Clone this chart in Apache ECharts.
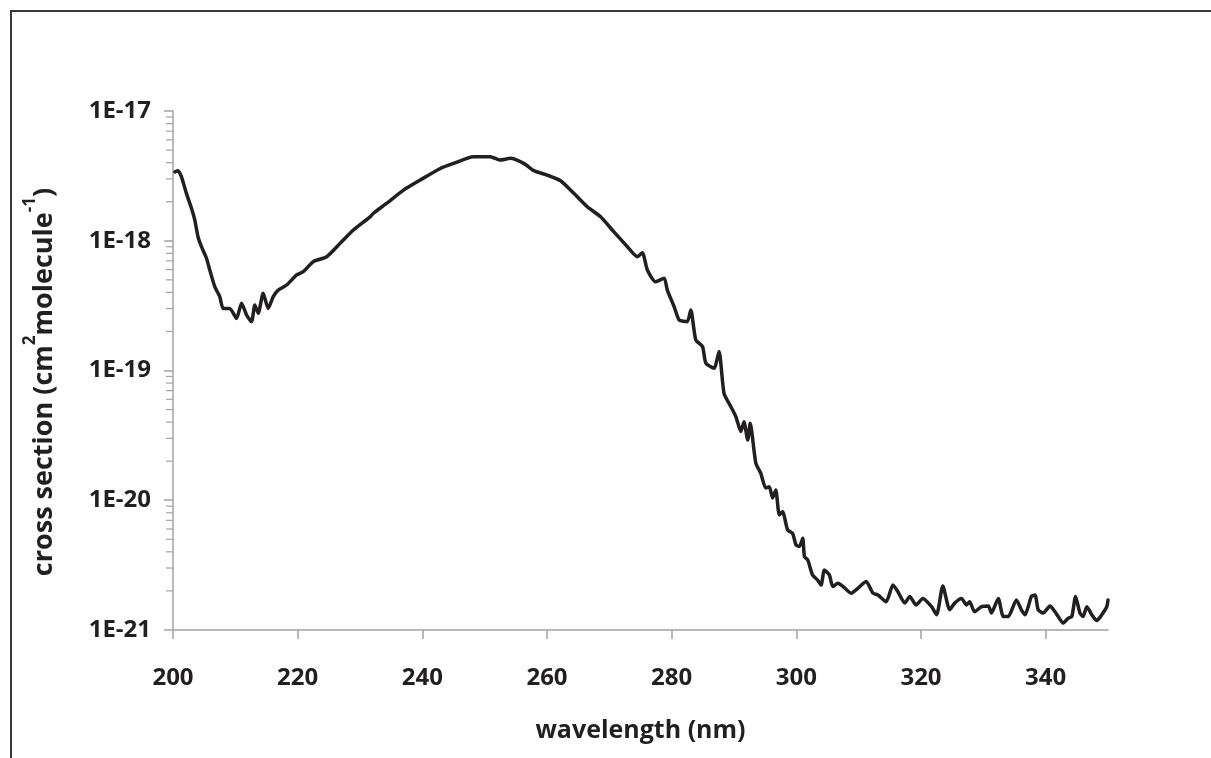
<!DOCTYPE html>
<html>
<head>
<meta charset="utf-8">
<script src="https://cdn.jsdelivr.net/npm/echarts@6/dist/echarts.min.js"></script>
<style>
html,body{margin:0;padding:0;background:#fff;}
#chart{width:1211px;height:758px;}
</style>
</head>
<body>
<div id="chart"></div>
<script>
const wavelength = [200.3,200.8,201.35,202.15,202.96,203.49,204.02,204.57,205.37,205.9,
206.7,207.5,208.04,209.1,210.19,211.0,211.8,212.6,213.13,213.67,
214.47,215.27,216.08,216.88,218.23,219.84,220.9,222.5,224.66,226.8,
228.94,231.62,232.15,234.3,236.98,239.66,242.88,245.0,248.2,250.9,
252.5,254.1,256.27,257.88,260.03,262.17,264.31,266.46,268.6,270.74,
272.9,274.5,275.3,276.1,277.4,278.8,279.3,280.4,281.2,282.5,
283.07,283.87,284.95,285.48,286.8,287.6,288.4,289.5,290.3,291.1,
291.6,292.2,292.6,293.5,294.3,295.1,295.66,296.2,296.7,297.27,
297.8,298.6,299.4,299.95,300.5,301.03,301.3,301.83,302.6,303.4,
303.97,304.5,305.3,305.85,306.66,307.5,308.8,309.9,311.2,312.3,
313.1,314.4,315.5,316.3,317.4,318.2,319.2,320.3,321.7,322.5,
323.5,324.6,325.4,326.5,327.3,327.8,328.6,329.7,330.8,331.3,
332.4,333.2,334.0,335.3,336.1,336.7,337.2,337.7,338.3,338.8,
339.6,340.7,341.5,342.0,342.8,343.6,344.2,344.8,345.5,346.0,
346.6,347.4,348.2,349.0,349.8,350.0];

const crossSection = [3.40e-18,3.47e-18,3.12e-18,2.32e-18,1.78e-18,1.45e-18,1.07e-18,9.0e-19,7.33e-19,5.95e-19,
4.43e-19,3.71e-19,3.01e-19,3.01e-19,2.52e-19,3.30e-19,2.68e-19,2.38e-19,3.20e-19,2.76e-19,
3.94e-19,3.01e-19,3.71e-19,4.17e-19,4.56e-19,5.45e-19,5.78e-19,6.90e-19,7.54e-19,9.55e-19,
1.21e-18,1.53e-18,1.63e-18,1.95e-18,2.46e-18,2.94e-18,3.61e-18,3.95e-18,4.45e-18,4.45e-18,
4.19e-18,4.32e-18,3.95e-18,3.47e-18,3.21e-18,2.90e-18,2.32e-18,1.83e-18,1.53e-18,1.17e-18,
9.0e-19,7.54e-19,8.09e-19,5.95e-19,4.83e-19,5.14e-19,4.17e-19,3.10e-19,2.45e-19,2.38e-19,
2.93e-19,1.72e-19,1.53e-19,1.14e-19,1.04e-19,1.40e-19,6.67e-20,5.26e-20,4.41e-20,3.38e-20,
4.03e-20,2.91e-20,3.92e-20,1.93e-20,1.61e-20,1.24e-20,1.27e-20,1.04e-20,1.20e-20,7.70e-21,
8.16e-21,5.90e-21,5.56e-21,4.52e-21,4.39e-21,5.09e-21,3.67e-21,3.47e-21,2.65e-21,2.43e-21,
2.22e-21,2.90e-21,2.65e-21,2.16e-21,2.29e-21,2.16e-21,1.92e-21,2.10e-21,2.36e-21,1.92e-21,
1.86e-21,1.65e-21,2.22e-21,1.97e-21,1.61e-21,1.81e-21,1.56e-21,1.75e-21,1.51e-21,1.31e-21,
2.18e-21,1.43e-21,1.61e-21,1.75e-21,1.56e-21,1.65e-21,1.38e-21,1.51e-21,1.53e-21,1.35e-21,
1.75e-21,1.27e-21,1.27e-21,1.70e-21,1.43e-21,1.31e-21,1.51e-21,1.81e-21,1.86e-21,1.43e-21,
1.35e-21,1.53e-21,1.38e-21,1.27e-21,1.13e-21,1.23e-21,1.27e-21,1.81e-21,1.35e-21,1.27e-21,
1.51e-21,1.31e-21,1.18e-21,1.31e-21,1.51e-21,1.70e-21];

const xTickValues = [200,220,240,260,280,300,320,340];
const yMinorTicks = [2e-21,3e-21,4e-21,5e-21,6e-21,7e-21,8e-21,9e-21,
2e-20,3e-20,4e-20,5e-20,6e-20,7e-20,8e-20,9e-20,
2e-19,3e-19,4e-19,5e-19,6e-19,7e-19,8e-19,9e-19,
2e-18,3e-18,4e-18,5e-18,6e-18,7e-18,8e-18,9e-18];

const TEXT = '#231f20';
const AXIS = '#a3a3a3';
const FONT = '"Open Sans", "Liberation Sans", sans-serif';

const chart = echarts.init(document.getElementById('chart'), null, {renderer:'canvas'});
chart.setOption({
  animation: false,
  backgroundColor: '#ffffff',
  graphic: [{
    type: 'rect', silent: true, z: 100,
    shape: {x: 11, y: 11, width: 1400, height: 1000},
    style: {fill: 'none', stroke: '#3a3a3a', lineWidth: 2}
  }, {
    type: 'text', silent: true, z: 100,
    x: 40, y: 382, rotation: Math.PI / 2,
    style: {
      text: '{t|cross section (cm}{s|2}{t|molecule}{s|-1}{t|)}',
      align: 'center', verticalAlign: 'middle',
      rich: {
        t: {fontFamily: FONT, fontWeight: 'bold', fontSize: 27, fill: TEXT, lineHeight: 36, verticalAlign: 'bottom'},
        s: {fontFamily: FONT, fontWeight: 'bold', fontSize: 17, fill: TEXT, lineHeight: 36, verticalAlign: 'top'}
      }
    }
  }],
  grid: {left: 173, right: 103, top: 111, bottom: 128, containLabel: false, outerBoundsMode: 'none'},
  xAxis: {
    type: 'value', min: 200, max: 350,
    name: 'wavelength (nm)', nameLocation: 'middle', nameGap: 88,
    nameTextStyle: {fontFamily: FONT, fontWeight: 'bold', fontSize: 25, color: TEXT},
    axisLine: {show: true, lineStyle: {color: AXIS, width: 1.5}},
    axisTick: {show: true, inside: false, length: 9, customValues: xTickValues, lineStyle: {color: AXIS, width: 1.5}},
    axisLabel: {customValues: xTickValues, margin: 36, fontFamily: FONT, fontWeight: 'bold', fontSize: 24, color: TEXT},
    splitLine: {show: false}
  },
  yAxis: {
    type: 'log', logBase: 10, min: 0.999e-21, max: 1.001e-17,
    axisLine: {show: true, lineStyle: {color: AXIS, width: 1.5}},
    axisTick: {show: true, inside: false, length: 9, lineStyle: {color: AXIS, width: 1.5}},
    axisLabel: {margin: 22, fontFamily: FONT, fontWeight: 'bold', fontSize: 24, color: TEXT,
      showMinLabel: true, showMaxLabel: true, hideOverlap: false,
      formatter: v => {
        const e = Math.log10(v);
        return Math.abs(e - Math.round(e)) < 1e-6 ? '1E' + Math.round(e) : '';
      }},
    splitLine: {show: false}
  },
  series: [
    {
      type: 'line',
      data: wavelength.map((w, i) => [w, crossSection[i]]),
      showSymbol: false, symbol: 'none', smooth: 0.2,
      lineStyle: {color: TEXT, width: 3.5, join: 'round', cap: 'round'},
      z: 5
    },
    {
      type: 'custom', silent: true, clip: false,
      data: yMinorTicks.map(v => [200, v]),
      encode: {x: 0, y: 1},
      renderItem: (params, api) => {
        const p = api.coord([api.value(0), api.value(1)]);
        return {type: 'line', shape: {x1: p[0] - 7, y1: p[1], x2: p[0], y2: p[1]},
          style: {stroke: AXIS, lineWidth: 1.2}};
      },
      z: 1
    }
  ]
});
</script>
</body>
</html>
